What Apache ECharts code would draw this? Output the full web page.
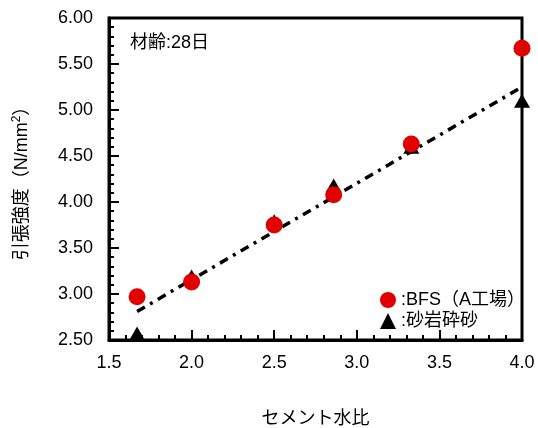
<!DOCTYPE html>
<html>
<head>
<meta charset="utf-8">
<script src="https://cdn.jsdelivr.net/npm/echarts@6/dist/echarts.min.js"></script>
<style>html,body{margin:0;padding:0;background:#fff}#c{width:538px;height:428px}</style>
</head>
<body>
<div id="c"></div>
<script>
var bfsX = [1.67, 2.0, 2.5, 2.86, 3.33, 4.0];
var bfsY = [2.97, 3.13, 3.75, 4.08, 4.63, 5.67];
var sandX = [1.67, 2.0, 2.5, 2.86, 3.33, 4.0];
var sandY = [2.57, 3.19, 3.79, 4.18, 4.60, 5.10];
var fitX = [1.67, 4.0];
var fitY = [2.81, 5.25];
var xTicks = {min: 1.5, max: 4.0, step: 0.5};
var yTicks = {min: 2.5, max: 6.0, step: 0.5};
var seriesNames = ['BFS（A工場）', '砂岩砕砂'];

function zip(a, b) { return a.map(function (v, i) { return [v, b[i]]; }); }

var font = 'Liberation Sans, Arial, Noto Sans CJK JP, sans-serif';
var chart = echarts.init(document.getElementById('c'));
chart.setOption({
  animation: false,
  backgroundColor: '#fff',
  textStyle: {fontFamily: font},
  grid: {left: 109, right: 16, top: 18, bottom: 88, containLabel: false, outerBoundsMode: 'none',
    show: true, borderColor: '#000', borderWidth: 3, backgroundColor: 'transparent'},
  xAxis: {
    type: 'value', min: xTicks.min, max: xTicks.max, interval: xTicks.step,
    name: 'セメント水比', nameLocation: 'middle', nameGap: 70,
    nameTextStyle: {fontSize: 18, color: '#000', fontFamily: font},
    axisLine: {show: true, lineStyle: {color: '#000', width: 3}},
    axisTick: {show: true, inside: true, length: 10, lineStyle: {color: '#000', width: 2}},
    minorTick: {show: true, splitNumber: 5, length: 5, lineStyle: {color: '#000', width: 2}},
    splitLine: {show: false},
    axisLabel: {fontSize: 18, color: '#000', margin: 14, formatter: function (v) { return v.toFixed(1); }}
  },
  yAxis: {
    type: 'value', min: yTicks.min, max: yTicks.max, interval: yTicks.step,
    name: '{a|引張強度（N/mm}{s|2}{a|）}', nameLocation: 'middle', nameGap: 76, nameRotate: 90,
    nameTextStyle: {
      fontSize: 18, color: '#000', fontFamily: font,
      rich: {
        a: {fontSize: 18, color: '#000', fontFamily: font, lineHeight: 22},
        s: {fontSize: 12, color: '#000', fontFamily: font, verticalAlign: 'top', lineHeight: 22, padding: [0, 0, 9, 0]}
      }
    },
    axisLine: {show: true, lineStyle: {color: '#000', width: 3}},
    axisTick: {show: true, inside: true, length: 10, lineStyle: {color: '#000', width: 2}},
    minorTick: {show: true, splitNumber: 5, length: 5, lineStyle: {color: '#000', width: 2}},
    splitLine: {show: false},
    axisLabel: {fontSize: 18, color: '#000', margin: 16, formatter: function (v) { return v.toFixed(2); }}
  },
  legend: {
    orient: 'vertical', left: 375, top: 286, itemGap: 3, itemWidth: 16, itemHeight: 16,
    data: [{name: seriesNames[0], icon: 'circle'}, {name: seriesNames[1], icon: 'triangle'}],
    formatter: function (n) { return ':' + n; },
    textStyle: {fontSize: 18, color: '#000'}
  },
  graphic: [{
    type: 'text', left: 130, top: 34,
    style: {text: '材齢:28日', font: '18px ' + font, fill: '#000'}
  }],
  series: [
    {
      type: 'line', data: zip(fitX, fitY), symbol: 'none', silent: true, z: 1,
      lineStyle: {color: '#000', width: 3.5, type: [9, 6, 3, 6]}
    },
    {
      name: seriesNames[1], type: 'scatter', data: zip(sandX, sandY), symbol: 'triangle',
      symbolSize: [16, 14], itemStyle: {color: '#000', opacity: 1}, z: 2, clip: false
    },
    {
      name: seriesNames[0], type: 'scatter', data: zip(bfsX, bfsY), symbol: 'circle',
      symbolSize: 17, itemStyle: {color: '#e00000', opacity: 1}, z: 3, clip: false
    }
  ]
});
</script>
</body>
</html>
